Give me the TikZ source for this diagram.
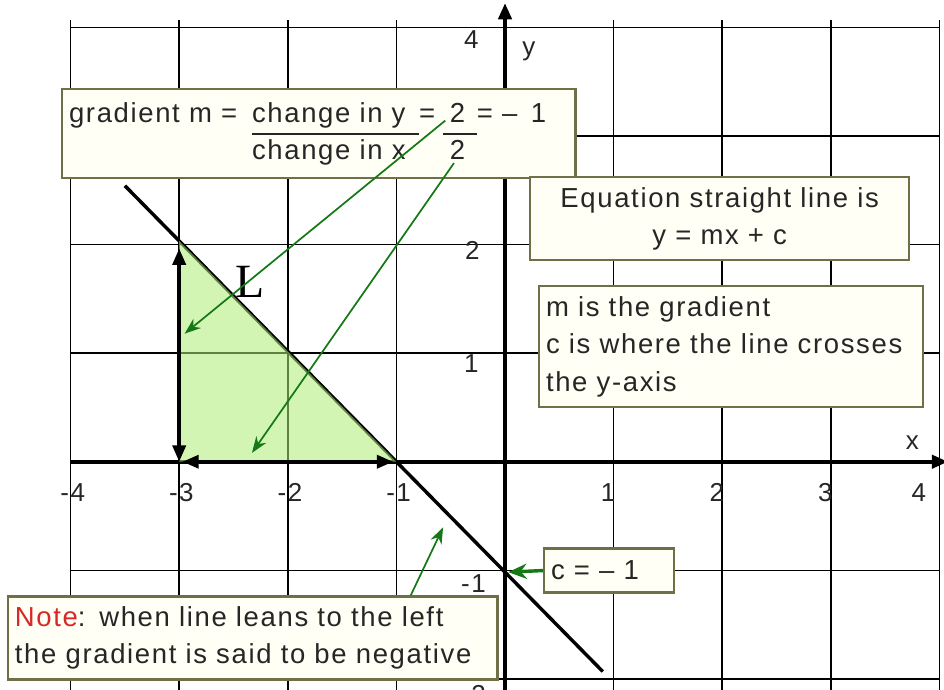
\documentclass[tikz,border=0pt]{standalone}
\usepackage{fontspec}
\setmainfont{Liberation Sans}[LetterSpace=6]
\newfontfamily\serifL{Liberation Serif}
\usepackage{tikz}
\usetikzlibrary{arrows.meta,calc}
\definecolor{boxline}{RGB}{112,112,72}
\definecolor{boxfill}{RGB}{255,255,246}
\definecolor{trifill}{RGB}{173,237,119}
\definecolor{arrgreen}{RGB}{20,120,20}
\definecolor{notered}{RGB}{215,40,40}
\tikzset{
  >={Triangle[length=1.5mm,width=1.2mm]},
  box/.style={draw=boxline,fill=boxfill,line width=0.6pt,anchor=north west,inner sep=1.8pt,
    align=left,font=\fontsize{7.2}{9.8}\selectfont,text=black!85},
  lab/.style={font=\fontsize{6.8}{8}\selectfont,text=black!85,inner sep=0pt},
  ga/.style={draw=arrgreen,line width=0.45pt,-{Stealth[length=1.5mm,width=1.1mm]}},
  every picture/.style={line width=0.4pt},
}

\begin{document}
\begin{tikzpicture}[x=1cm,y=1.0166cm]
\useasboundingbox (-4.65,-2.059) rectangle (4.042,4.182);
\draw (-4,-2.2) grid (4,4);
\foreach \k in {-4,-3,-2,-1} \node[lab] (x\k) at (\k+0.02,-0.28) {\k};
\foreach \k in {1,2,3} \node[lab] (x\k) at (\k-0.05,-0.28) {\k};
\node[lab] (x4) at (3.81,-0.28) {4}; \node[lab] (xl) at (3.75,0.17) {x};
\node[lab] (y4) at (-0.31,3.82) {4}; \node[lab] (y2) at (-0.30,1.91) {2};
\node[lab] (y1) at (-0.31,0.89) {1}; \node[lab] (ym1) at (-0.29,-1.10) {-1};
\node[lab] (ym2) at (-0.29,-2.11) {-2}; \node[lab] (yl) at (0.22,3.72) {y};
\draw[line width=1.1pt,->] (-4,0) -- (4.08,0);
\draw[line width=1.1pt,->] (0,-2.1) -- (0,4.155);
\draw[line width=0.9pt] (-3.5,2.5) -- (0.9,-1.9);
\coordinate (ta) at (-3,2); \coordinate (tb) at (-3,0); \coordinate (tc) at (-1,0);
\fill[trifill,fill opacity=0.55] (ta) -- (tb) -- (tc) -- cycle;
\draw[line width=0.9pt,<->,shorten <=0.7mm] (ta) -- (tb);
\draw[line width=0.9pt,<->,shorten <=0.3mm,shorten >=0.3mm] (tb) -- (tc);
\node[font=\serifL\fontsize{12.5}{12.5}\selectfont,inner sep=0pt] (Ll) at (-2.35,1.63) {L};
% text boxes
\node[box,minimum width=4.724cm,minimum height=0.783cm,text width=4.6cm] (grad) at (-4.088,3.385) {%
  \begin{tabular}{@{}l@{\ \hspace{1.5pt}}c@{\ \hspace{1.2pt}}c@{\hspace{2pt}}c@{\hspace{1.3pt}}l@{}}
  gradient m = & change in y & = & \hspace{1.8pt}2\hspace{1.8pt} & =\ –\hspace{3.5pt}1\\ \cline{2-2}\cline{4-4}
  & change in x & & 2 &
  \end{tabular}};
\node[box,minimum width=3.49cm,minimum height=0.764cm,text width=3.36cm,align=center] (eqn) at (0.221,2.588)
  {Equation straight line is\\y = mx + c};
\node[box,minimum width=3.536cm,minimum height=1.114cm,text width=3.41cm] (mb) at (0.304,1.600)
  {m is the gradient\\c is where the line crosses\\the y-axis};
\node[box,minimum width=1.197cm,minimum height=0.405cm,text width=1.07cm] (cb) at (0.350,-0.776) {c = – 1};
\node[box,minimum width=4.503cm,minimum height=0.764cm,text width=4.38cm] (note) at (-4.586,-1.211)
  {\textcolor{notered}{Note}: when line leans to the left\\the gradient is said to be negative};
% green pointers
\coordinate (g1) at (-0.55,3.09); \coordinate (h1) at (-2.95,1.16);
\coordinate (g2) at (-0.47,2.705); \coordinate (h2) at (-2.33,0.08);
\coordinate (h3) at (-0.57,-0.594); \coordinate (yc) at (0.03,-1.0);
\draw[ga] (g1) -- (h1); \draw[ga] (g2) -- (h2);
\draw[ga] ([xshift=-8.1mm]note.north east) -- (h3);
\draw[ga,line width=0.9pt,-{Stealth[length=1.7mm,width=1.4mm]}] (cb.west) -- (yc);
\end{tikzpicture}
\end{document}
